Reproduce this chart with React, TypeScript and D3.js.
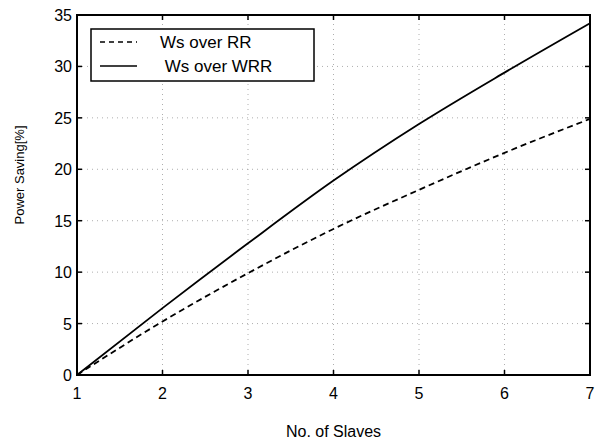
import { useEffect, useRef } from "react";
import * as d3 from "d3";

const slaves = [1, 2, 3, 4, 5, 6, 7];
const wsOverRR = [0, 5.2, 9.9, 14.2, 18.0, 21.6, 24.9];
const wsOverWRR = [0, 6.5, 12.8, 18.9, 24.4, 29.4, 34.2];
const xTicks = [1, 2, 3, 4, 5, 6, 7];
const yTicks = [0, 5, 10, 15, 20, 25, 30, 35];
const legendLabels = ["Ws over RR", " Ws over WRR"];

export default function App() {
  const ref = useRef<SVGSVGElement>(null);

  useEffect(() => {
    const svg = d3.select(ref.current!);
    svg.selectAll("*").remove();
    const w = 599,
      h = 441,
      margin = { top: 15, right: 9, bottom: 66, left: 77 };
    const font = "Liberation Sans, Arial, sans-serif";

    const x = d3.scaleLinear().domain([1, 7]).range([margin.left, w - margin.right]);
    const y = d3.scaleLinear().domain([0, 35]).range([h - margin.bottom, margin.top]);

    // grid
    const grid = svg.append("g").attr("stroke", "#999").attr("stroke-width", 0.8).attr("stroke-dasharray", "1,4");
    grid
      .selectAll("line.gx")
      .data(xTicks.slice(1, -1))
      .join("line")
      .attr("x1", (d) => x(d))
      .attr("x2", (d) => x(d))
      .attr("y1", y(0))
      .attr("y2", y(35));
    grid
      .selectAll("line.gy")
      .data(yTicks.slice(1, -1))
      .join("line")
      .attr("y1", (d) => y(d))
      .attr("y2", (d) => y(d))
      .attr("x1", x(1))
      .attr("x2", x(7));

    // lines
    const line = d3
      .line<number>()
      .x((_, i) => x(slaves[i]))
      .y((d) => y(d))
      .curve(d3.curveMonotoneX);
    svg
      .append("path")
      .datum(wsOverRR)
      .attr("d", line)
      .attr("fill", "none")
      .attr("stroke", "#000")
      .attr("stroke-width", 1.8)
      .attr("stroke-dasharray", "6,4");
    svg
      .append("path")
      .datum(wsOverWRR)
      .attr("d", line)
      .attr("fill", "none")
      .attr("stroke", "#000")
      .attr("stroke-width", 1.8);

    // box + inward ticks
    const ax = svg.append("g").attr("stroke", "#000");
    ax.append("rect")
      .attr("x", x(1))
      .attr("y", y(35))
      .attr("width", x(7) - x(1))
      .attr("height", y(0) - y(35))
      .attr("fill", "none")
      .attr("stroke-width", 2);
    const tl = 5;
    xTicks.forEach((t) => {
      ax.append("line").attr("x1", x(t)).attr("x2", x(t)).attr("y1", y(0)).attr("y2", y(0) - tl).attr("stroke-width", 1.5);
      ax.append("line").attr("x1", x(t)).attr("x2", x(t)).attr("y1", y(35)).attr("y2", y(35) + tl).attr("stroke-width", 1.5);
    });
    yTicks.forEach((t) => {
      ax.append("line").attr("y1", y(t)).attr("y2", y(t)).attr("x1", x(1)).attr("x2", x(1) + tl).attr("stroke-width", 1.5);
      ax.append("line").attr("y1", y(t)).attr("y2", y(t)).attr("x1", x(7)).attr("x2", x(7) - tl).attr("stroke-width", 1.5);
    });

    // tick labels
    svg
      .append("g")
      .selectAll("text")
      .data(xTicks)
      .join("text")
      .attr("x", (d) => x(d))
      .attr("y", y(0) + 24)
      .attr("text-anchor", "middle")
      .attr("font-family", font)
      .attr("font-size", 16)
      .text((d) => d);
    svg
      .append("g")
      .selectAll("text")
      .data(yTicks)
      .join("text")
      .attr("x", x(1) - 5)
      .attr("y", (d) => y(d) + 6)
      .attr("text-anchor", "end")
      .attr("font-family", font)
      .attr("font-size", 16)
      .text((d) => d);

    // axis titles
    svg
      .append("text")
      .attr("x", (x(1) + x(7)) / 2)
      .attr("y", 437)
      .attr("text-anchor", "middle")
      .attr("font-family", font)
      .attr("font-size", 16)
      .text("No. of Slaves");
    svg
      .append("text")
      .attr("transform", "translate(24,175) rotate(-90)")
      .attr("text-anchor", "middle")
      .attr("font-family", font)
      .attr("font-size", 13)
      .text("Power Saving[%]");

    // legend
    const lg = svg.append("g");
    lg.append("rect")
      .attr("x", 91)
      .attr("y", 29)
      .attr("width", 223)
      .attr("height", 52)
      .attr("fill", "#fff")
      .attr("stroke", "#000")
      .attr("stroke-width", 1.5);
    const rows = [42, 66];
    rows.forEach((ry, i) => {
      lg.append("line")
        .attr("x1", 100)
        .attr("x2", 137)
        .attr("y1", ry)
        .attr("y2", ry)
        .attr("stroke", "#000")
        .attr("stroke-width", 1.5)
        .attr("stroke-dasharray", i === 0 ? "5,4" : null);
      lg.append("text")
        .attr("x", 160)
        .attr("y", ry + 6)
        .attr("font-family", font)
        .attr("font-size", 17)
        .attr("xml:space", "preserve")
        .style("white-space", "pre")
        .text(legendLabels[i]);
    });
  }, []);

  return <svg ref={ref} width={599} height={441} style={{ position: "absolute", left: 0, top: 0, background: "#fff" }} />;
}
